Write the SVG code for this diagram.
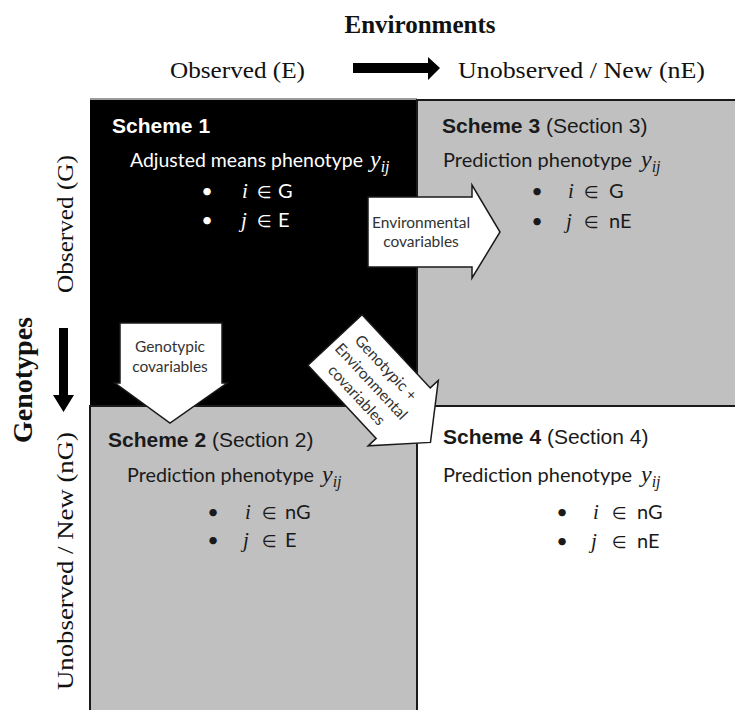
<svg xmlns="http://www.w3.org/2000/svg" width="735" height="710" viewBox="0 0 735 710">
<style>
.ser{font-family:"Liberation Serif","Times New Roman",serif;fill:#111}
.hd{font-family:"Liberation Sans",Arial,sans-serif;font-size:21px}
.hd .b{font-weight:bold}
.bd{font-family:Lato,"DejaVu Sans",sans-serif;font-size:20px}
.math{font-family:"Liberation Serif",serif;font-style:italic}
.el{font-family:"DejaVu Sans",sans-serif;font-size:17px}
.dk{fill:#1a1a1a}
.wt{fill:#ffffff}
.arw{fill:#ffffff;stroke:#1a1a1a;stroke-width:1.5;stroke-linejoin:miter}
.al{font-family:Lato,"DejaVu Sans",sans-serif;font-size:15.5px;fill:#333;text-anchor:middle}
.cell{stroke:#1a1a1a;stroke-width:2}
</style>

<g id="axis-environments">
  <text class="ser" x="420" y="33" font-size="25" font-weight="bold" text-anchor="middle">Environments</text>
  <text class="ser" x="170" y="78" font-size="24" textLength="135" lengthAdjust="spacingAndGlyphs">Observed (E)</text>
  <polygon points="353,63 428,63 428,57 440,68 428,80 428,73 353,73" fill="#000"/>
  <text class="ser" x="458" y="78" font-size="24" textLength="247" lengthAdjust="spacingAndGlyphs">Unobserved / New (nE)</text>
</g>

<g id="axis-genotypes">
  <text class="ser" transform="translate(73,224) rotate(-90)" font-size="24" text-anchor="middle" textLength="138" lengthAdjust="spacingAndGlyphs">Observed (G)</text>
  <text class="ser" transform="translate(32,380) rotate(-90)" font-size="27" font-weight="bold" text-anchor="middle" textLength="126" lengthAdjust="spacingAndGlyphs">Genotypes</text>
  <polygon points="59,328 68,328 68,395 74,395 63.5,412 53,395 59,395" fill="#000"/>
  <text class="ser" transform="translate(73,561) rotate(-90)" font-size="24" text-anchor="middle" textLength="258" lengthAdjust="spacingAndGlyphs">Unobserved / New (nG)</text>
</g>

<g id="scheme1">
  <rect x="90" y="100" width="327" height="306" fill="#000"/>
  <line x1="90" y1="99" x2="417" y2="99" stroke="#9a9a9a" stroke-width="2"/>
  <text class="hd wt" x="112" y="133"><tspan class="b">Scheme 1</tspan></text>
  <text class="bd wt" x="130" y="167" textLength="233" lengthAdjust="spacingAndGlyphs">Adjusted means phenotype</text>
  <text class="math wt" x="370" y="167" font-size="24">y<tspan font-size="16" dy="5">ij</tspan></text>
  <text class="bd wt" x="207" y="198" text-anchor="middle">•</text>
  <text class="math wt" x="242" y="198" font-size="21">i</text>
  <text class="el wt" x="257" y="198">∈</text>
  <text class="bd wt" x="278" y="198">G</text>
  <text class="bd wt" x="207" y="227" text-anchor="middle">•</text>
  <text class="math wt" x="241" y="227" font-size="21">j</text>
  <text class="el wt" x="257" y="227">∈</text>
  <text class="bd wt" x="278" y="227">E</text>
</g>

<g id="scheme3">
  <rect class="cell" x="417" y="100" width="319" height="306" fill="#c0c0c0"/>
  <text class="hd dk" x="442" y="133"><tspan class="b">Scheme 3</tspan> (Section 3)</text>
  <text class="bd dk" x="443" y="167" textLength="189" lengthAdjust="spacingAndGlyphs">Prediction phenotype</text>
  <text class="math dk" x="641" y="167" font-size="24">y<tspan font-size="16" dy="5">ij</tspan></text>
  <text class="bd dk" x="537" y="198" text-anchor="middle">•</text>
  <text class="math dk" x="568" y="198" font-size="21">i</text>
  <text class="el dk" x="584" y="198">∈</text>
  <text class="bd dk" x="609" y="198">G</text>
  <text class="bd dk" x="537" y="228" text-anchor="middle">•</text>
  <text class="math dk" x="566" y="228" font-size="21">j</text>
  <text class="el dk" x="584" y="228">∈</text>
  <text class="bd dk" x="609" y="228">nE</text>
</g>

<g id="scheme2">
  <rect class="cell" x="90" y="406" width="327" height="305" fill="#c0c0c0"/>
  <text class="hd dk" x="108" y="447"><tspan class="b">Scheme 2</tspan> (Section 2)</text>
  <text class="bd dk" x="127" y="482" textLength="187" lengthAdjust="spacingAndGlyphs">Prediction phenotype</text>
  <text class="math dk" x="322" y="482" font-size="24">y<tspan font-size="16" dy="5">ij</tspan></text>
  <text class="bd dk" x="213" y="519" text-anchor="middle">•</text>
  <text class="math dk" x="245" y="519" font-size="21">i</text>
  <text class="el dk" x="262" y="519">∈</text>
  <text class="bd dk" x="285" y="519">nG</text>
  <text class="bd dk" x="213" y="547" text-anchor="middle">•</text>
  <text class="math dk" x="243" y="547" font-size="21">j</text>
  <text class="el dk" x="262" y="547">∈</text>
  <text class="bd dk" x="285" y="547">E</text>
</g>

<g id="scheme4">
  <rect class="cell" x="417" y="406" width="319" height="305" fill="#ffffff"/>
  <text class="hd dk" x="443" y="444"><tspan class="b">Scheme 4</tspan> (Section 4)</text>
  <text class="bd dk" x="443" y="482" textLength="189" lengthAdjust="spacingAndGlyphs">Prediction phenotype</text>
  <text class="math dk" x="641" y="482" font-size="24">y<tspan font-size="16" dy="5">ij</tspan></text>
  <text class="bd dk" x="562" y="519" text-anchor="middle">•</text>
  <text class="math dk" x="593" y="519" font-size="21">i</text>
  <text class="el dk" x="612" y="519">∈</text>
  <text class="bd dk" x="637" y="519">nG</text>
  <text class="bd dk" x="562" y="548" text-anchor="middle">•</text>
  <text class="math dk" x="591" y="548" font-size="21">j</text>
  <text class="el dk" x="612" y="548">∈</text>
  <text class="bd dk" x="637" y="548">nE</text>
</g>

<g id="connectors">
  <g id="arrow-environmental">
    <polygon class="arw" points="368,197 472,197 472,185 500,232 472,278 472,267 368,267"/>
    <text class="al" x="421" y="228">Environmental</text>
    <text class="al" x="421" y="247">covariables</text>
  </g>
  <g id="arrow-genotypic">
    <polygon class="arw" points="120,323 222,323 222,383 227,383 170,423 115,383 120,383"/>
    <text class="al" x="170" y="352">Genotypic</text>
    <text class="al" x="170" y="372">covariables</text>
  </g>
  <g id="arrow-both" transform="translate(335,340) rotate(47)">
    <polygon class="arw" points="0,-37 100,-37 100,-48 140,0 100,48 100,37 0,37"/>
    <text class="al" x="55" y="-13">Genotypic +</text>
    <text class="al" x="55" y="7">Environmental</text>
    <text class="al" x="55" y="27">covariables</text>
  </g>
</g>
</svg>
